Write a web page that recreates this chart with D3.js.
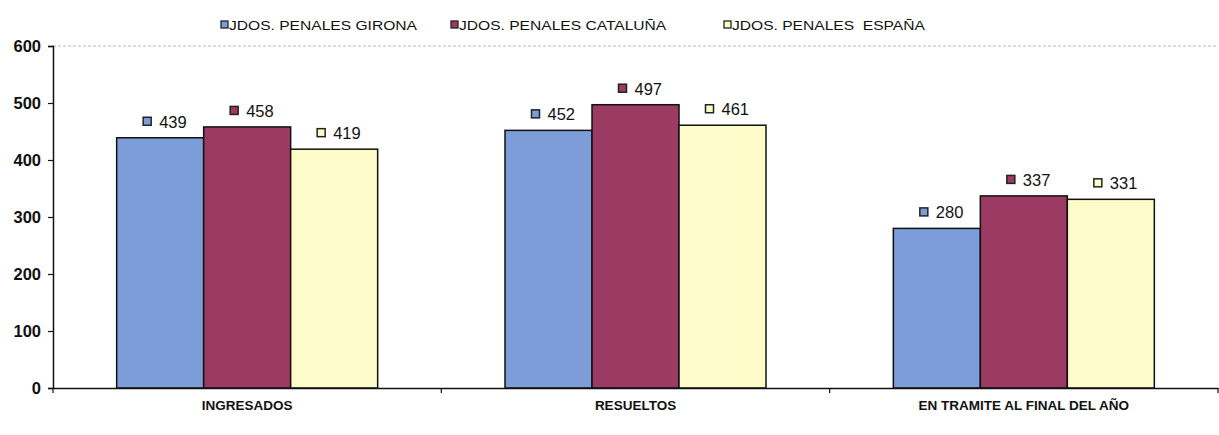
<!DOCTYPE html>
<html><head><meta charset="utf-8">
<script src="https://cdn.jsdelivr.net/npm/d3@7"></script>
<style>body{margin:0;background:#fff}svg{display:block;font-family:"Liberation Sans",Arial,sans-serif}</style>
</head><body><svg id="c" width="1219" height="435"></svg>
<script>
const categories = ["INGRESADOS", "RESUELTOS", "EN TRAMITE AL FINAL DEL AÑO"];
const seriesNames = ["JDOS. PENALES GIRONA", "JDOS. PENALES CATALUÑA", "JDOS. PENALES  ESPAÑA"];
const girona = [439, 452, 280];
const cataluna = [458, 497, 337];
const espana = [419, 461, 331];
const yTicks = [0, 100, 200, 300, 400, 500, 600];
const colors = ["#7d9dd9", "#9b3a62", "#fdfbc9"];

const seriesValues = [girona, cataluna, espana];
const svg = d3.select("#c");
const mLeft = 53, mRight = 1218, mTop = 46, mBottom = 388;

const y = d3.scaleLinear().domain([0, 600]).range([mBottom, mTop]);
const x0 = d3.scaleBand().domain(categories).range([mLeft, mRight]).padding(0);
const bw = x0.bandwidth();
const groupW = 261;
const x1 = d3.scaleBand().domain(seriesNames).range([(bw - groupW) / 2, (bw + groupW) / 2]).padding(0);

// top gridline
svg.append("line").attr("x1", mLeft).attr("x2", mRight).attr("y1", y(600)).attr("y2", y(600))
  .attr("stroke", "#b8b8b8").attr("stroke-dasharray", "3,2").attr("stroke-width", 1);

// bars
categories.forEach((c, ci) => {
  seriesNames.forEach((s, si) => {
    const v = seriesValues[si][ci];
    const bx = x0(c) + x1(s);
    svg.append("rect").attr("x", bx).attr("y", y(v)).attr("width", x1.bandwidth()).attr("height", y(0) - y(v))
      .attr("fill", colors[si]).attr("stroke", "#111").attr("stroke-width", 1.5);
    const g = svg.append("g").attr("transform", `translate(${bx + x1.bandwidth() / 2 + 3},${y(v) - 16})`);
    g.append("rect").attr("x", -20).attr("y", -4.5).attr("width", 8).attr("height", 8)
      .attr("fill", colors[si]).attr("stroke", "#222").attr("stroke-width", 1.5);
    g.append("text").attr("x", -4).attr("y", 6).attr("font-size", 16.5).attr("fill", "#111").text(v);
  });
});

// y axis
const yAxis = svg.append("g").attr("transform", `translate(${mLeft},0)`)
  .call(d3.axisLeft(y).tickValues(yTicks).tickSize(5).tickPadding(7));
yAxis.select(".domain").attr("stroke", "#111").attr("stroke-width", 1.5);
yAxis.selectAll(".tick line").attr("stroke", "#111").attr("stroke-width", 1.2);
yAxis.selectAll("text").attr("font-size", 16.5).attr("font-weight", "bold").attr("fill", "#111")
  .attr("font-family", "Liberation Sans, Arial, sans-serif");

// x axis
const xAxis = svg.append("g").attr("transform", `translate(0,${mBottom})`)
  .call(d3.axisBottom(x0).tickSize(0).tickPadding(12));
xAxis.select(".domain").attr("stroke", "#111").attr("stroke-width", 1.5);
xAxis.selectAll("text").attr("font-size", 13.5).attr("font-weight", "bold").attr("fill", "#111")
  .attr("font-family", "Liberation Sans, Arial, sans-serif");
const bounds = categories.map(c => x0(c)).concat([x0(categories[categories.length - 1]) + bw]);
svg.append("g").selectAll("line").data(bounds).join("line")
  .attr("x1", d => d).attr("x2", d => d).attr("y1", mBottom).attr("y2", mBottom + 5)
  .attr("stroke", "#111").attr("stroke-width", 1.2);

// legend
const legendX = [221, 451, 724];
const lg = svg.append("g").selectAll("g").data(seriesNames).join("g")
  .attr("transform", (d, i) => `translate(${legendX[i]},25)`);
lg.append("rect").attr("x", 0).attr("y", -4).attr("width", 7).attr("height", 7)
  .attr("fill", (d, i) => colors[i]).attr("stroke", "#222").attr("stroke-width", 1.3);
lg.append("text").attr("x", 0).attr("y", 0).attr("font-size", 13).attr("fill", "#111")
  .attr("xml:space", "preserve").style("white-space", "pre")
  .attr("transform", "translate(8,4.8) scale(1.2,1)").text(d => d);
</script></body></html>
